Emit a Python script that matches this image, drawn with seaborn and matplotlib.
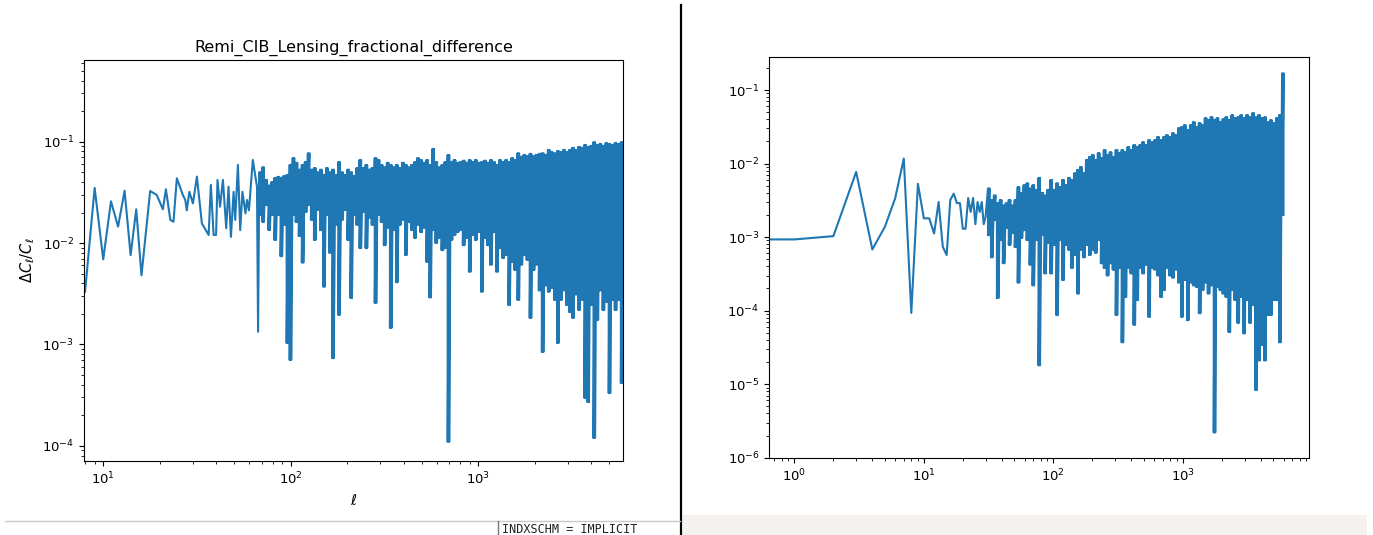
import numpy as np
import matplotlib
matplotlib.use("Agg")
import matplotlib.pyplot as plt
from matplotlib.lines import Line2D
from matplotlib.patches import Rectangle
import seaborn as sns

# ---- left panel: Remi CIB x lensing, fractional difference ----
# low multipoles, where single points can still be told apart
ell_low_left = [8, 9, 10, 11, 12, 13, 14, 15, 16, 17.8, 19.3, 20.8, 21.6, 22.8,
                23.7, 24.7, 26.6, 27.4, 27.9, 28.8, 30.1, 31.6, 33.6, 36.5, 37.5,
                38.8, 40.0, 40.7, 42.0, 43.5, 45.3, 46.6, 48.0, 49.6, 50.6, 52.3,
                53.8, 55.3, 57.4, 58.5, 59.9, 62.8, 66.1, 67.0]
frac_low_left = [0.0033, 0.035, 0.0069, 0.0258, 0.0145, 0.0328, 0.0076, 0.0215,
                 0.0048, 0.0326, 0.0298, 0.0215, 0.0339, 0.0169, 0.0162, 0.0435,
                 0.0298, 0.0266, 0.021, 0.032, 0.0246, 0.0452, 0.0156, 0.012,
                 0.0374, 0.012, 0.012, 0.0419, 0.0228, 0.042, 0.014, 0.036,
                 0.0115, 0.032, 0.0169, 0.0589, 0.0134, 0.032, 0.0196, 0.0266,
                 0.021, 0.066, 0.036, 0.00133]

# dense part (ell 68 .. 5880): upper and lower swing of the scatter
ell_band_left = (68, 5880)
band_top_left = [
    0.050, 0.056, 0.042, 0.037, 0.040, 0.044, 0.045, 0.044, 0.046, 0.047,
    0.059, 0.069, 0.062, 0.053, 0.059, 0.063, 0.077, 0.053, 0.055, 0.050,
    0.053, 0.047, 0.055, 0.050, 0.053, 0.047, 0.063, 0.050, 0.047, 0.053,
    0.050, 0.046, 0.055, 0.066, 0.055, 0.059, 0.053, 0.055, 0.069, 0.066,
    0.059, 0.056, 0.062, 0.059, 0.056, 0.059, 0.055, 0.062, 0.059, 0.056,
    0.059, 0.063, 0.069, 0.066, 0.062, 0.066, 0.059, 0.085, 0.063, 0.056,
    0.059, 0.063, 0.074, 0.063, 0.066, 0.062, 0.063, 0.065, 0.062, 0.066,
    0.063, 0.066, 0.062, 0.063, 0.065, 0.062, 0.066, 0.063, 0.059, 0.066,
    0.063, 0.066, 0.063, 0.069, 0.066, 0.077, 0.071, 0.074, 0.072, 0.076,
    0.072, 0.074, 0.076, 0.077, 0.074, 0.083, 0.079, 0.077, 0.081, 0.079,
    0.083, 0.079, 0.083, 0.087, 0.083, 0.089, 0.087, 0.093, 0.089, 0.091,
    0.099, 0.093, 0.095, 0.091, 0.097, 0.095, 0.093, 0.097, 0.095, 0.099]
band_bot_left = [
    0.0189, 0.0161, 0.0237, 0.0134, 0.0189, 0.0107, 0.0189, 0.0074, 0.0151, 0.00103,
    0.0007, 0.0189, 0.0161, 0.0117, 0.0064, 0.0202, 0.0237, 0.0169, 0.0107, 0.0212,
    0.0134, 0.0037, 0.0189, 0.0080, 0.00073, 0.0151, 0.00195, 0.0169, 0.0212, 0.0107,
    0.00286, 0.0189, 0.0151, 0.0089, 0.0202, 0.0089, 0.0177, 0.0151, 0.00256, 0.0189,
    0.0161, 0.0095, 0.0141, 0.00145, 0.0134, 0.0041, 0.0151, 0.0169, 0.0076, 0.0161,
    0.0134, 0.0112, 0.0151, 0.0128, 0.0141, 0.0065, 0.0029, 0.0134, 0.0100, 0.0112,
    0.0085, 0.0089, 0.000109, 0.0107, 0.0120, 0.0128, 0.0134, 0.0095, 0.0112, 0.0052,
    0.0120, 0.0107, 0.0128, 0.0033, 0.0112, 0.0095, 0.0061, 0.0128, 0.0052, 0.0089,
    0.0071, 0.0076, 0.00244, 0.0065, 0.0054, 0.00274, 0.0061, 0.0076, 0.0068, 0.00182,
    0.0054, 0.0061, 0.0034, 0.00084, 0.0038, 0.0033, 0.0036, 0.00274, 0.00103, 0.00274,
    0.0034, 0.00244, 0.00208, 0.00182, 0.0031, 0.00218, 0.00274, 0.000295, 0.000269, 0.00244,
    0.000119, 0.00174, 0.0034, 0.00218, 0.00262, 0.00033, 0.00274, 0.00218, 0.00274, 0.000415]

# ---- right panel ----
ell_low_right = list(range(0, 31))
frac_low_right = [9.3e-4, 9.3e-4, 1.03e-3, 7.7e-3, 6.8e-4, 1.38e-3, 3.36e-3, 1.17e-2,
                  9.3e-5, 5.3e-3, 1.8e-3, 1.8e-3, 1.12e-3, 3.0e-3, 7.4e-4, 5.7e-4,
                  3.2e-3, 3.9e-3, 2.9e-3, 2.9e-3, 1.3e-3, 1.3e-3, 3.4e-3, 2.2e-3,
                  3.4e-3, 1.5e-3, 3.0e-3, 2.2e-3, 3.0e-3, 1.5e-3, 1.9e-3]

ell_band_right = (31.3, 6000)
band_top_right = [
    0.0046, 0.0032, 0.0037, 0.0029, 0.0032, 0.0027, 0.0029, 0.0032, 0.0027, 0.0032,
    0.0048, 0.0040, 0.0051, 0.0054, 0.0046, 0.0051, 0.0044, 0.0064, 0.0040, 0.0037,
    0.0044, 0.0060, 0.0044, 0.0054, 0.0048, 0.0060, 0.0051, 0.0064, 0.0060, 0.0074,
    0.0082, 0.0090, 0.0074, 0.0112, 0.0123, 0.0131, 0.0112, 0.0139, 0.0119, 0.0153,
    0.0131, 0.0143, 0.0123, 0.0153, 0.0139, 0.0153, 0.0143, 0.0168, 0.0153, 0.0179,
    0.0168, 0.0179, 0.0196, 0.0179, 0.0209, 0.0196, 0.0209, 0.0230, 0.0209, 0.0230,
    0.0244, 0.0230, 0.0260, 0.0244, 0.0304, 0.0314, 0.0334, 0.0286, 0.0334, 0.0367,
    0.0314, 0.0356, 0.0334, 0.0416, 0.0391, 0.0429, 0.0391, 0.0416, 0.0367, 0.0403,
    0.0429, 0.0391, 0.0457, 0.0416, 0.0429, 0.0457, 0.0416, 0.0457, 0.0429, 0.0487,
    0.0429, 0.0457, 0.0416, 0.0429, 0.0367, 0.0391, 0.0356, 0.0416, 0.0457, 0.169]
band_bot_right = [
    0.00106, 0.00053, 0.0017, 0.000148, 0.00091, 0.00044, 0.00133, 0.00078, 0.00113, 0.00073,
    0.00024, 0.00097, 0.00124, 0.00091, 0.00042, 0.00022, 0.00091, 0.000018, 0.00106, 0.00032,
    0.00083, 0.00032, 0.00078, 0.000087, 0.00091, 0.00026, 0.00078, 0.00067, 0.00038, 0.00057,
    0.00017, 0.00067, 0.00053, 0.00078, 0.00057, 0.00067, 0.00061, 0.00091, 0.00044, 0.00038,
    0.00030, 0.00044, 0.00036, 0.000087, 0.00038, 0.000037, 0.000153, 0.00038, 0.00032, 0.000064,
    0.000139, 0.00038, 0.00032, 0.00042, 0.000082, 0.00038, 0.00036, 0.00030, 0.000153, 0.00019,
    0.00038, 0.00030, 0.00028, 0.00036, 0.00024, 0.000082, 0.00026, 0.000074, 0.00024, 0.00022,
    0.00021, 0.000092, 0.00019, 0.00024, 0.00017, 0.00022, 0.0000022, 0.00021, 0.00019, 0.00017,
    0.000153, 0.000051, 0.00019, 0.000139, 0.000068, 0.000153, 0.000049, 0.000139, 0.000068, 0.000119,
    0.0000083, 0.000021, 0.000034, 0.000021, 0.000087, 0.000087, 0.000139, 0.000139, 0.000037, 0.0020]


def trace(ell_low, frac_low, ell_range, top, bot, dense=2):
    # sparse part, then the dense part swinging top -> bottom; every read
    # pair is drawn `dense` times side by side so the band closes up
    top = np.repeat(top, dense)
    bot = np.repeat(bot, dense)
    ell_band = np.geomspace(ell_range[0], ell_range[1], len(top))
    x = np.concatenate([ell_low, np.repeat(ell_band, 2)])
    y = np.concatenate([frac_low, np.column_stack([top, bot]).ravel()])
    return x, y


plt.rcParams["xtick.labelsize"] = 9.5
plt.rcParams["ytick.labelsize"] = 9.5

fig = plt.figure(figsize=(13.73, 5.35), dpi=100)
ax1 = fig.add_axes([0.0612, 0.1383, 0.3926, 0.7496])
ax2 = fig.add_axes([0.5603, 0.1445, 0.3931, 0.7495])

x1, y1 = trace(ell_low_left, frac_low_left, ell_band_left, band_top_left, band_bot_left)
x2, y2 = trace(ell_low_right, frac_low_right, ell_band_right, band_top_right, band_bot_right)

sns.lineplot(x=x1, y=y1, ax=ax1, sort=False, estimator=None, color="#1f77b4", linewidth=1.5)
sns.lineplot(x=x2, y=y2, ax=ax2, sort=False, estimator=None, color="#1f77b4", linewidth=1.5)

for ax in (ax1, ax2):
    ax.set_xscale("log")
    ax.set_yscale("log")

ax1.set_xlim(7.9, 5930)
ax1.set_ylim(7.06e-5, 0.64)
ax1.set_title("Remi_CIB_Lensing_fractional_difference", fontsize=11.5)
ax1.set_xlabel(r"$\ell$", fontsize=10.5)
ax1.set_ylabel(r"$\Delta C_\ell / C_\ell$", fontsize=10.5)

ax2.set_xlim(0.64, 9440)
ax2.set_ylim(1e-6, 0.284)

# notebook screenshot leftovers around the plots
fig.add_artist(Line2D([0.496, 0.496], [0.0, 0.991], transform=fig.transFigure,
                      color="black", linewidth=1.6))
fig.add_artist(Line2D([0.0036, 0.4953], [0.0262, 0.0262], transform=fig.transFigure,
                      color="#c8c8c8", linewidth=1.0))
fig.add_artist(Line2D([0.3627, 0.3627], [0.0, 0.0262], transform=fig.transFigure,
                      color="#777777", linewidth=1.0))
fig.add_artist(Rectangle((0.4975, 0.0), 0.498, 0.0374, transform=fig.transFigure,
                         facecolor="#f4f1ee", edgecolor="none"))
fig.text(0.3656, 0.0045, "INDXSCHM = IMPLICIT", family="DejaVu Sans Mono",
         fontsize=8.5, va="baseline", ha="left", color="#222222")

fig.savefig("out.png", dpi=100)
